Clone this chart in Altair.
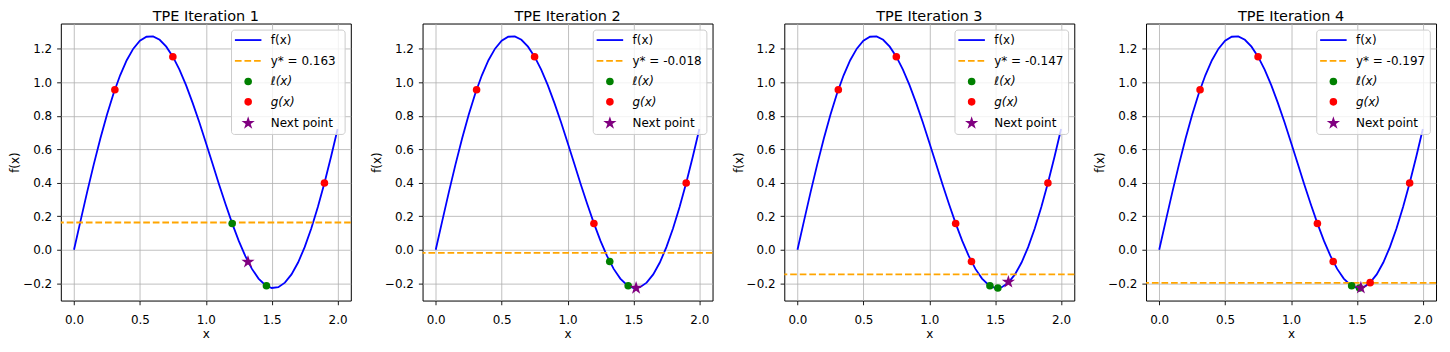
import altair as alt
import pandas as pd

# ---- data ----
curve_x = [0.00, 0.05, 0.10, 0.15, 0.20, 0.25, 0.30, 0.35, 0.40, 0.45,
           0.50, 0.55, 0.60, 0.65, 0.70, 0.75, 0.80, 0.85, 0.90, 0.95,
           1.00, 1.05, 1.10, 1.15, 1.20, 1.25, 1.30, 1.35, 1.40, 1.45,
           1.50, 1.55, 1.60, 1.65, 1.70, 1.75, 1.80, 1.85, 1.90, 1.95, 2.00]
curve_y = [0.000, 0.174, 0.346, 0.510, 0.665, 0.807, 0.933, 1.042, 1.132, 1.201,
           1.248, 1.272, 1.274, 1.254, 1.213, 1.153, 1.076, 0.983, 0.877, 0.763,
           0.641, 0.517, 0.392, 0.272, 0.158, 0.053, -0.038, -0.114, -0.172, -0.210,
           -0.228, -0.223, -0.196, -0.147, -0.076, 0.016, 0.127, 0.256, 0.399, 0.556, 0.721]

titles = ["TPE Iteration 1", "TPE Iteration 2", "TPE Iteration 3", "TPE Iteration 4"]
y_star = [0.163, -0.018, -0.147, -0.197]
y_star_labels = ["y* = 0.163", "y* = -0.018", "y* = -0.147", "y* = -0.197"]

good_x = [[1.20, 1.46], [1.32, 1.46], [1.46, 1.52], [1.46, 1.52]]
good_y = [[0.157, -0.215], [-0.070, -0.215], [-0.215, -0.228], [-0.215, -0.228]]
bad_x = [[0.31, 0.75, 1.90],
         [0.31, 0.75, 1.20, 1.90],
         [0.31, 0.75, 1.20, 1.32, 1.90],
         [0.31, 0.75, 1.20, 1.32, 1.60, 1.90]]
bad_y = [[0.956, 1.153, 0.399],
         [0.956, 1.153, 0.157, 0.399],
         [0.956, 1.153, 0.157, -0.070, 0.399],
         [0.956, 1.153, 0.157, -0.070, -0.196, 0.399]]
next_x = [1.32, 1.52, 1.60, 1.53]
next_y = [-0.072, -0.228, -0.192, -0.227]

x_ticks = [0.0, 0.5, 1.0, 1.5, 2.0]
y_ticks = [-0.2, 0.0, 0.2, 0.4, 0.6, 0.8, 1.0, 1.2]
legend_names = ["f(x)", None, "ℓ(x)", "g(x)", "Next point"]

# ---- style ----
FONT = "DejaVu Sans"
W, H = 291, 278
STAR = ("M0,-1L0.2245,-0.309L0.951,-0.309L0.363,0.118L0.588,0.809L0,0.382"
        "L-0.588,0.809L-0.363,0.118L-0.951,-0.309L-0.2245,-0.309Z")
CIRCLE_SIZE = 58
STAR_SIZE = 196
LW = 1.8
DASH = [6.7, 2.9]
FS = 12

xs = alt.Scale(domain=[-0.1, 2.1], nice=False, zero=False)
ys = alt.Scale(domain=[-0.303, 1.351], nice=False, zero=False)
xax = alt.Axis(values=x_ticks, format=".1f", title="x", labelOverlap=False)
yax = alt.Axis(values=y_ticks, format=".1f", title="f(x)", labelOverlap=False)

one = pd.DataFrame({"a": [0]})
leg_rows = [16.6, 37.4, 58.1, 78.6, 100.0]
LX0, LX1, LXC, LXT = 174.7, 201.3, 188.0, 210.7


def X():
    return alt.X("x:Q", scale=xs, axis=xax)


def Y():
    return alt.Y("y:Q", scale=ys, axis=yax)


def panel(i):
    curve_df = pd.DataFrame({"x": curve_x, "y": curve_y})
    curve = alt.Chart(curve_df).mark_line(color="blue", strokeWidth=LW).encode(x=X(), y=Y())
    rule = alt.Chart(pd.DataFrame({"y": [y_star[i]]})).mark_rule(
        color="orange", strokeWidth=LW, strokeDash=DASH).encode(y=Y())
    good = alt.Chart(pd.DataFrame({"x": good_x[i], "y": good_y[i]})).mark_point(
        shape="circle", filled=True, size=CIRCLE_SIZE, color="green", opacity=1).encode(
        x=X(), y=Y())
    bad = alt.Chart(pd.DataFrame({"x": bad_x[i], "y": bad_y[i]})).mark_point(
        shape="circle", filled=True, size=CIRCLE_SIZE, color="red", opacity=1).encode(
        x=X(), y=Y())
    nxt = alt.Chart(pd.DataFrame({"x": [next_x[i]], "y": [next_y[i]]})).mark_point(
        shape=STAR, filled=True, size=STAR_SIZE, color="purple", opacity=1).encode(
        x=X(), y=Y())

    # legend (decoration)
    box = alt.Chart(one).mark_rect(fill="white", fillOpacity=0.8, stroke="#cccccc",
                                   strokeWidth=1, cornerRadius=3).encode(
        x=alt.value(171.3), x2=alt.value(285.3), y=alt.value(6.6), y2=alt.value(111.3))
    l1 = alt.Chart(one).mark_rule(color="blue", strokeWidth=LW).encode(
        x=alt.value(LX0), x2=alt.value(LX1), y=alt.value(leg_rows[0]))
    l2 = alt.Chart(one).mark_rule(color="orange", strokeWidth=LW, strokeDash=DASH).encode(
        x=alt.value(LX0), x2=alt.value(LX1), y=alt.value(leg_rows[1]))
    l3 = alt.Chart(one).mark_point(shape="circle", filled=True, size=CIRCLE_SIZE,
                                   color="green", opacity=1).encode(
        x=alt.value(LXC), y=alt.value(leg_rows[2]))
    l4 = alt.Chart(one).mark_point(shape="circle", filled=True, size=CIRCLE_SIZE,
                                   color="red", opacity=1).encode(
        x=alt.value(LXC), y=alt.value(leg_rows[3]))
    l5 = alt.Chart(one).mark_point(shape=STAR, filled=True, size=STAR_SIZE,
                                   color="purple", opacity=1).encode(
        x=alt.value(LXC), y=alt.value(leg_rows[4]))
    names = list(legend_names)
    names[1] = y_star_labels[i]
    texts = []
    for k, nm in enumerate(names):
        style = "italic" if k in (2, 3) else "normal"
        texts.append(alt.Chart(one).mark_text(
            text=nm, align="left", baseline="middle", font=FONT, fontSize=FS,
            fontStyle=style, color="black").encode(
            x=alt.value(LXT), y=alt.value(leg_rows[k])))

    return alt.layer(curve, rule, good, bad, nxt, box, l1, l2, l3, l4, l5, *texts).properties(
        width=W, height=H,
        title=alt.TitleParams(titles[i], fontSize=14.5, font=FONT, fontWeight="normal",
                              color="black", anchor="middle", offset=-1))


chart = alt.hconcat(*[panel(i) for i in range(4)], spacing=72, bounds="flush").properties(
    padding={"left": 0, "top": 0, "right": 4, "bottom": 0}
).configure_view(
    stroke="black", strokeWidth=1
).configure_axis(
    grid=True, gridColor="#b0b0b0", gridWidth=0.8, domain=False,
    tickColor="black", tickSize=4.2, tickWidth=0.9,
    labelFont=FONT, labelFontSize=FS, labelColor="black",
    titleFont=FONT, titleFontSize=FS, titleFontWeight="normal", titleColor="black"
).configure_axisY(
    labelPadding=5, titlePadding=1
).configure_axisX(
    labelPadding=10, titlePadding=3
)

chart.save("out.html", embed_options={"renderer": "svg", "actions": False})
